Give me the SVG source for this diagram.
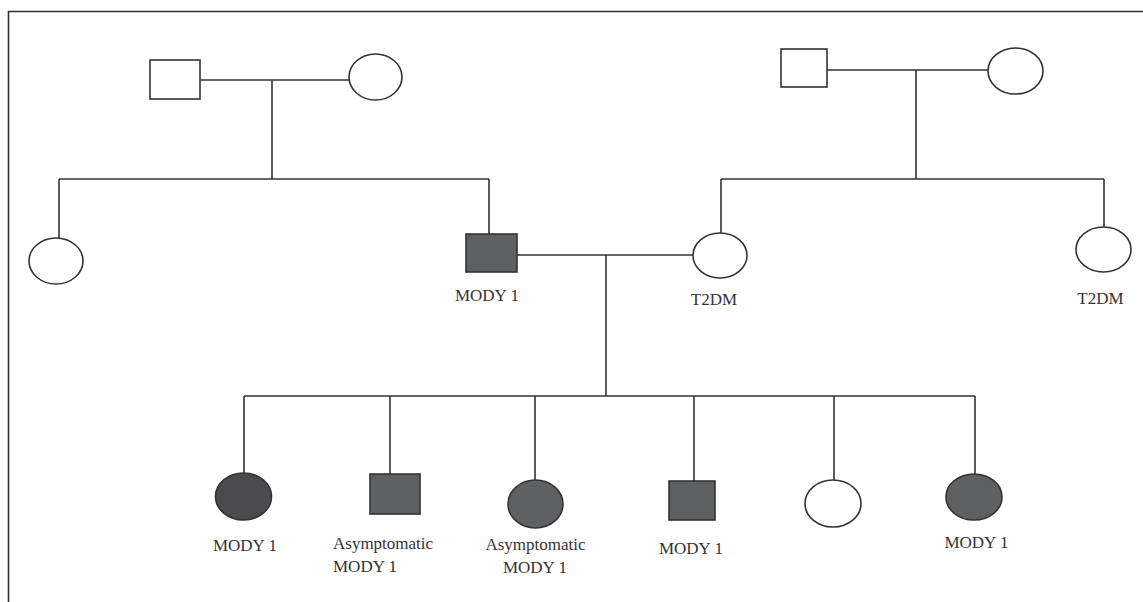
<svg xmlns="http://www.w3.org/2000/svg" width="1143" height="602" viewBox="0 0 1143 602">
<style>
.ln{stroke:#333;stroke-width:1.6;fill:none}
.open{fill:#fff;stroke:#333;stroke-width:1.6}
.aff{fill:#5f6062;stroke:#333;stroke-width:1.6}
.aff2{fill:#4b4b4d;stroke:#333;stroke-width:1.6}
text{font-family:"Liberation Serif","Times New Roman",serif;font-size:17px;fill:#333}
.c{text-anchor:middle}
</style>
<rect width="1143" height="602" fill="#fff"/>
<path class="ln" d="M8.5 602 V11.5 H1143"/>
<g id="connectors">
<path class="ln" d="M200 80 H349 M272 80 V179 M59 179 H489 M59 179 V238 M489 179 V234"/>
<path class="ln" d="M827 70 H988 M916 70 V179 M721 179 H1104 M721 179 V233 M1104 179 V227"/>
<path class="ln" d="M517 255 H693 M606 255 V396 M244 396 H975"/>
<path class="ln" d="M244 396 V473 M390 396 V474 M535 396 V480 M694 396 V481 M834 396 V480 M975 396 V474"/>
</g>
<g id="gf1"><rect class="open" x="150" y="60" width="50" height="39"/></g>
<g id="gm1"><ellipse class="open" cx="375.5" cy="77" rx="26.5" ry="23"/></g>
<g id="gf2"><rect class="open" x="781" y="49" width="46" height="38"/></g>
<g id="gm2"><ellipse class="open" cx="1015.5" cy="71" rx="27.5" ry="23"/></g>
<g id="aunt"><ellipse class="open" cx="56" cy="261" rx="27" ry="23"/></g>
<g id="father"><rect class="aff" x="466" y="234" width="51" height="38"/><text class="c" x="487" y="301">MODY 1</text></g>
<g id="mother"><ellipse class="open" cx="720" cy="255.5" rx="27" ry="22.5"/><text class="c" x="714" y="305">T2DM</text></g>
<g id="maunt"><ellipse class="open" cx="1103.5" cy="249.5" rx="27.5" ry="22.5"/><text class="c" x="1100.5" y="304">T2DM</text></g>
<g id="c1"><ellipse class="aff2" cx="243.5" cy="496.5" rx="28" ry="23.5"/><text class="c" x="245" y="551">MODY 1</text></g>
<g id="c2"><rect class="aff" x="370" y="474" width="50" height="40"/><text x="333" y="549">Asymptomatic</text><text x="333" y="572">MODY 1</text></g>
<g id="c3"><ellipse class="aff" cx="535.5" cy="504" rx="27.5" ry="24"/><text class="c" x="535.5" y="550">Asymptomatic</text><text class="c" x="535" y="573">MODY 1</text></g>
<g id="c4"><rect class="aff" x="669" y="481" width="46" height="39"/><text class="c" x="691" y="554">MODY 1</text></g>
<g id="c5"><ellipse class="open" cx="833" cy="503.5" rx="28" ry="23.5"/></g>
<g id="c6"><ellipse class="aff" cx="974" cy="497" rx="28" ry="23"/><text class="c" x="976.5" y="548">MODY 1</text></g>
</svg>
